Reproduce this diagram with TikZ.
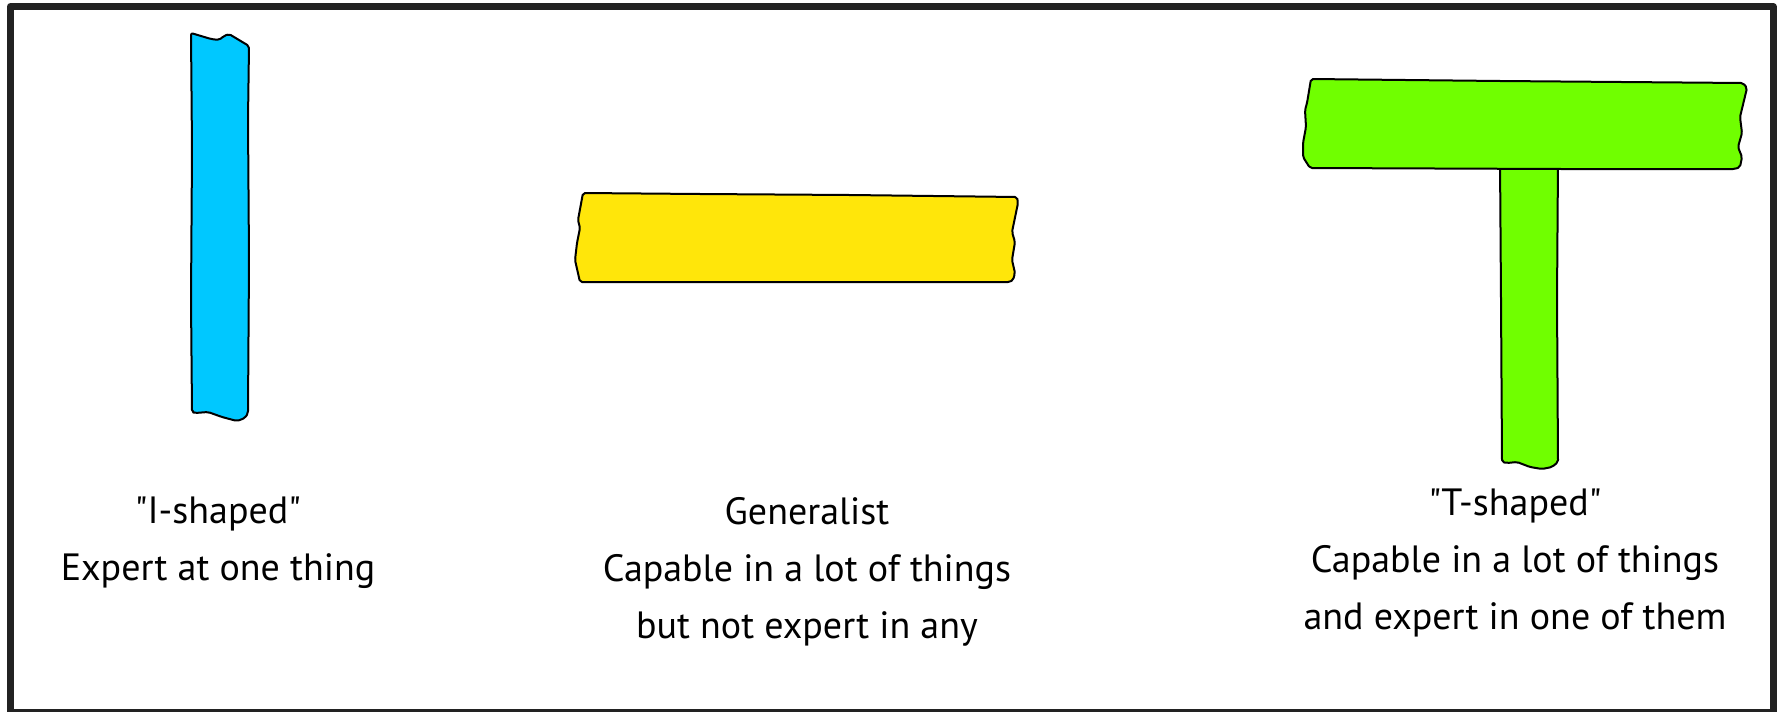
\documentclass[tikz,border=0pt]{standalone}
\usepackage{fontspec}
\setmainfont{PT Sans}
\definecolor{frame}{RGB}{34,34,34}
\definecolor{iblue}{RGB}{0,200,255}
\definecolor{gyellow}{RGB}{255,230,10}
\definecolor{tgreen}{RGB}{112,255,0}
\begin{document}
\begin{tikzpicture}[x=0.5pt,y=-0.5pt,line cap=round,line join=round,
    bar/.style={draw=black,line width=1pt,rounded corners=1pt},
    label/.style={align=center,inner sep=0pt,font=\fontsize{19pt}{28.5pt}\selectfont}]
  \useasboundingbox (0,0) rectangle (1783,712);
  \fill[white] (0,0) rectangle (1783,712);
  \draw[frame,line width=3.5pt] (10.5,6.5) rectangle (1773,712.5);
  % I-shaped
  \filldraw[bar,fill=iblue] (191,33) -- (211,39) -- (219,40) -- (224,36) -- (229,34) -- (249,46)
    -- (248,120) -- (249,260) -- (248,413) -- (245,418) -- (237,421) -- (222,417) -- (208,412)
    -- (195,413) -- (192,412) -- (191,300) -- (192,150) -- cycle;
  % generalist
  \filldraw[bar,fill=gyellow] (583,193) -- (700,194) -- (850,195) -- (1017,197) -- (1018,203)
    -- (1012,232) -- (1015,242) -- (1012,260) -- (1015,273) -- (1013,280) -- (1010,282)
    -- (800,282) -- (580,282) -- (575,260) -- (577,243) -- (580,228) -- (578,220) -- cycle;
  % T-shaped
  \filldraw[bar,fill=tgreen] (1500,160) -- (1558,160) -- (1557,300) -- (1558,462) -- (1552,467)
    -- (1542,469) -- (1530,467) -- (1517,462) -- (1507,463) -- (1502,462) -- (1501,300) -- cycle;
  \filldraw[bar,fill=tgreen] (1311,79) -- (1500,81) -- (1743,83) -- (1747,88) -- (1740,117)
    -- (1742,133) -- (1738,147) -- (1742,157) -- (1740,167) -- (1735,169) -- (1560,169)
    -- (1310,168) -- (1303,157) -- (1303,143) -- (1306,127) -- (1305,110) -- (1307,103) -- cycle;
  \node[label] (ishape) at (218,543) {\textquotedbl I-shaped\textquotedbl\\Expert at one thing};
  \node[label] (general) at (807,572) {Generalist\\Capable in a lot of things\\but not expert in any};
  \node[label] (tshape) at (1515,563) {\textquotedbl T-shaped\textquotedbl\\Capable in a lot of things\\and expert in one of them};
\end{tikzpicture}
\end{document}
